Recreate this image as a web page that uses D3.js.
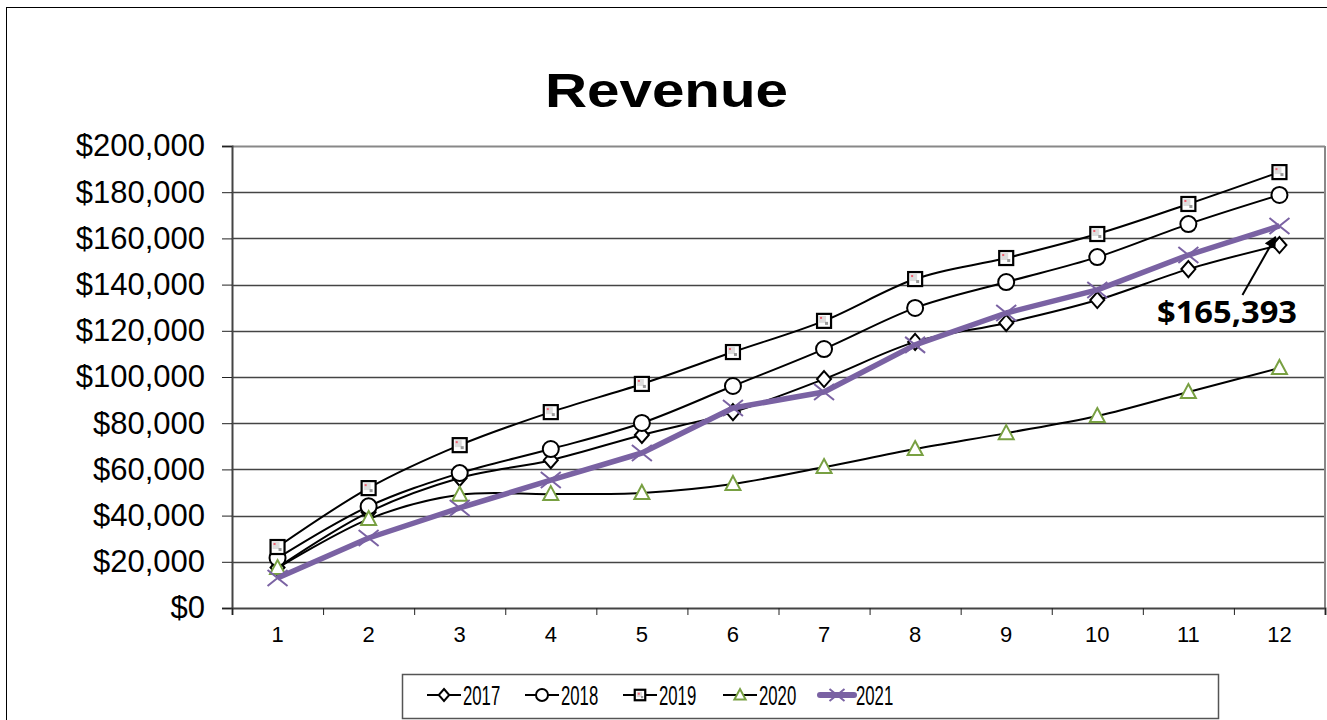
<!DOCTYPE html>
<html>
<head>
<meta charset="utf-8">
<script src="https://cdn.jsdelivr.net/npm/d3@7"></script>
<style>
  body { margin: 0; background: #fff; }
  text { font-family: "Liberation Sans", Arial, sans-serif; }
</style>
</head>
<body>
<script>
// Chart data
const months = [1, 2, 3, 4, 5, 6, 7, 8, 9, 10, 11, 12];
const years = ["2017", "2018", "2019", "2020", "2021"];
const rev2017 = [17500, 41500, 56300, 64000, 74900, 84800, 99100, 115200, 123400, 133300, 146700, 157100];
const rev2018 = [21600, 44000, 58400, 68800, 80100, 96100, 112100, 129900, 141100, 151900, 166200, 178800];
const rev2019 = [26400, 51900, 70500, 84800, 97000, 110800, 124300, 142400, 151500, 161900, 174900, 188700];
const rev2020 = [17300, 38500, 49000, 49300, 49800, 53700, 61000, 68800, 75700, 83100, 93500, 103900];
const rev2021 = [13000, 30300, 43300, 55400, 67100, 86600, 93500, 113900, 127700, 137700, 152800, 165393];
const yTicks = [0, 20000, 40000, 60000, 80000, 100000, 120000, 140000, 160000, 180000, 200000];
const calloutValue = 165393;

const W = 1327, H = 720;
const plot = { left: 232, right: 1325, top: 146, bottom: 608 };

const svg = d3.select("body").append("svg")
    .attr("width", W)
    .attr("height", H);

// outer chart border
svg.append("rect")
    .attr("x", 6.5).attr("y", 7.5)
    .attr("width", W + 10).attr("height", H + 10)
    .attr("fill", "none").attr("stroke", "#000").attr("stroke-width", 1);

const x = d3.scaleBand().domain(months).range([plot.left, plot.right]);
const xEdge = d3.scaleLinear().domain([0, 12]).range([plot.left, plot.right]);
const y = d3.scaleLinear().domain([0, 200000]).range([plot.bottom, plot.top]);
const cx = d => x(d) + x.bandwidth() / 2;

// title
svg.append("text")
    .attr("x", 545).attr("y", 107)
    .attr("textLength", 243)
    .attr("lengthAdjust", "spacingAndGlyphs")
    .style("font-size", "48px")
    .style("font-weight", "bold")
    .text("Revenue");

// gridlines
svg.append("g")
    .selectAll("line")
    .data(yTicks.filter(d => d > 0))
    .join("line")
    .attr("x1", plot.left).attr("x2", plot.right)
    .attr("y1", d => Math.round(y(d)) + 0.5).attr("y2", d => Math.round(y(d)) + 0.5)
    .attr("stroke", d => d === 200000 ? "#888" : "#444")
    .attr("stroke-width", d => d === 200000 ? 2 : 1.3);

// right border of plot area
svg.append("line")
    .attr("x1", plot.right).attr("x2", plot.right)
    .attr("y1", plot.top).attr("y2", plot.bottom)
    .attr("stroke", "#888").attr("stroke-width", 2);

// y axis
const yAxis = svg.append("g")
    .attr("transform", `translate(${plot.left},0)`)
    .call(d3.axisLeft(y).tickValues(yTicks).tickFormat(d3.format("$,")).tickSize(10).tickPadding(17));
yAxis.select(".domain").attr("stroke", "#444").attr("stroke-width", 2);
yAxis.selectAll(".tick line").attr("stroke", "#222");
yAxis.selectAll("text").style("font-size", "31px").attr("fill", "#000")
    .attr("font-family", null);

// x axis: labels at category centres, ticks between categories
const xAxis = svg.append("g")
    .attr("transform", `translate(0,${plot.bottom})`)
    .call(d3.axisBottom(x).tickSize(0).tickPadding(18));
xAxis.select(".domain").remove();
xAxis.selectAll("text").style("font-size", "22px").attr("fill", "#000")
    .attr("font-family", null);

const xTicks = svg.append("g")
    .attr("transform", `translate(0,${plot.bottom})`)
    .call(d3.axisBottom(xEdge).ticks(12).tickFormat("").tickSize(7));
xTicks.select(".domain").attr("stroke", "#444").attr("stroke-width", 2);
xTicks.selectAll(".tick line").attr("stroke", "#222");

// series
const purple = "#7a62a3";
const green = "#78a042";
const series = [
    { name: years[0], values: rev2017, marker: "diamond", color: "#000", width: 2, curve: d3.curveCatmullRom.alpha(0) },
    { name: years[1], values: rev2018, marker: "circle", color: "#000", width: 2, curve: d3.curveCatmullRom.alpha(0) },
    { name: years[2], values: rev2019, marker: "square", color: "#000", width: 2, curve: d3.curveCatmullRom.alpha(0) },
    { name: years[3], values: rev2020, marker: "triangle", color: "#000", width: 2, curve: d3.curveCatmullRom.alpha(0) },
    { name: years[4], values: rev2021, marker: "cross", color: purple, width: 5.5, curve: d3.curveLinear }
];

function drawMarker(g, type, scale) {
    const s = scale || 1;
    if (type === "diamond") {
        g.append("path").attr("d", `M0,${-8 * s}L${7 * s},0L0,${8 * s}L${-7 * s},0Z`)
            .attr("fill", "#fff").attr("stroke", "#000").attr("stroke-width", 2);
    } else if (type === "circle") {
        g.append("circle").attr("r", 8 * s)
            .attr("fill", "#fff").attr("stroke", "#000").attr("stroke-width", 2);
    } else if (type === "square") {
        const h = 7 * s;
        g.append("rect").attr("x", -h).attr("y", -h).attr("width", 2 * h).attr("height", 2 * h)
            .attr("fill", "#fff").attr("stroke", "#000").attr("stroke-width", 2.2);
        g.append("rect").attr("x", -h + 2).attr("y", -h + 2).attr("width", h).attr("height", h)
            .attr("fill", "#ddd");
        g.append("rect").attr("x", -h + 3).attr("y", -h + 3).attr("width", 2).attr("height", 2)
            .attr("fill", "#f06070");
        g.append("rect").attr("x", 1).attr("y", 1).attr("width", 3 * s).attr("height", 3 * s)
            .attr("fill", "#999");
    } else if (type === "triangle") {
        g.append("path").attr("d", `M0,${-8 * s}L${7.5 * s},${6 * s}L${-7.5 * s},${6 * s}Z`)
            .attr("fill", "#fff").attr("stroke", green).attr("stroke-width", 2);
    } else if (type === "cross") {
        const h = 10 * s;
        g.append("path").attr("d", `M${-h},${-h * 0.8}L${h},${h * 0.8}M${-h},${h * 0.8}L${h},${-h * 0.8}`)
            .attr("stroke", purple).attr("stroke-width", 2);
    }
}

const line = d3.line();
series.forEach(s => {
    const pts = months.map((m, i) => [cx(m), y(s.values[i])]);
    svg.append("path")
        .attr("d", line.curve(s.curve)(pts))
        .attr("fill", "none")
        .attr("stroke", s.color)
        .attr("stroke-width", s.width)
        .attr("stroke-linejoin", "round");
    pts.forEach(p => {
        const g = svg.append("g").attr("transform", `translate(${p[0]},${p[1]})`);
        drawMarker(g, s.marker);
    });
});

// callout
const tipX = cx(12) - 4, tipY = y(calloutValue) + 11;
const startX = tipX - 33, startY = tipY + 58;
svg.append("defs").append("marker")
    .attr("id", "arrow")
    .attr("viewBox", "0 0 10 10")
    .attr("refX", 9).attr("refY", 5)
    .attr("markerWidth", 7).attr("markerHeight", 6)
    .attr("orient", "auto")
    .append("path").attr("d", "M0,0L10,5L0,10Z").attr("fill", "#000");
svg.append("line")
    .attr("x1", startX).attr("y1", startY)
    .attr("x2", tipX).attr("y2", tipY)
    .attr("stroke", "#000").attr("stroke-width", 2)
    .attr("marker-end", "url(#arrow)");
svg.append("text")
    .attr("x", 1157).attr("y", startY + 28)
    .attr("textLength", 140)
    .attr("lengthAdjust", "spacingAndGlyphs")
    .style("font-size", "31px")
    .style("font-weight", "bold")
    .style("font-family", "'Open Sans', 'Liberation Sans', sans-serif")
    .text(d3.format("$,")(calloutValue));

// legend
const legend = svg.append("g");
legend.append("rect")
    .attr("x", 402.5).attr("y", 674.5)
    .attr("width", 816).attr("height", 44)
    .attr("fill", "#fff").attr("stroke", "#555").attr("stroke-width", 1.5);
const legendX = [427, 525, 623, 723, 820];
const ly = 695;
series.forEach((s, i) => {
    const lx = legendX[i];
    const g = legend.append("g");
    g.append("line")
        .attr("x1", lx).attr("x2", lx + 34)
        .attr("y1", ly).attr("y2", ly)
        .attr("stroke", s.color).attr("stroke-width", s.width === 2 ? 2 : 6)
        .attr("stroke-linecap", s.width === 2 ? "butt" : "round");
    const m = g.append("g").attr("transform", `translate(${lx + 17},${ly})`);
    drawMarker(m, s.marker, 0.75);
    // narrow legend text: squeeze horizontally
    g.append("text")
        .attr("transform", `translate(${lx + 36},${ly + 10}) scale(0.62,1)`)
        .style("font-size", "27px")
        .text(s.name);
});
</script>
</body>
</html>
